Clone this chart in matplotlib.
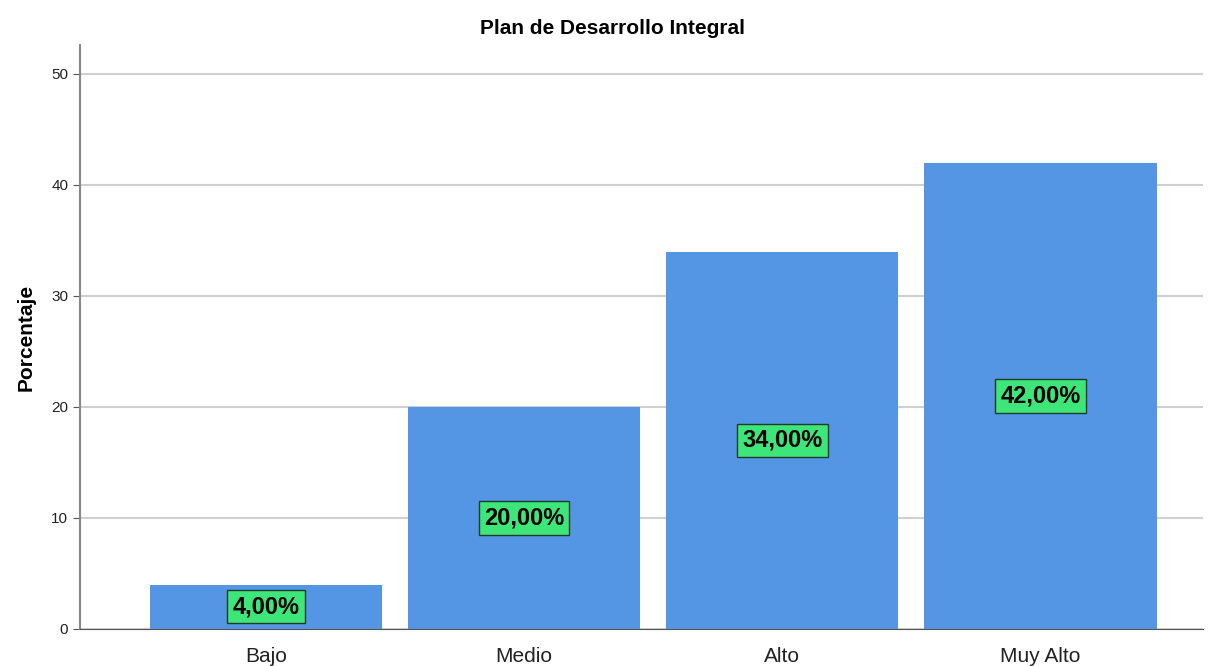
import matplotlib
matplotlib.use("Agg")
import matplotlib.pyplot as plt

# Datos
categorias = ["Bajo", "Medio", "Alto", "Muy Alto"]
porcentajes = [4.0, 20.0, 34.0, 42.0]
etiquetas = ["4,00%", "20,00%", "34,00%", "42,00%"]

plt.rcParams["font.family"] = ["Liberation Sans", "DejaVu Sans"]

fig = plt.figure(figsize=(12.17, 6.66), dpi=100)
ax = fig.add_axes([80 / 1217, 1 - 629 / 666, (1203 - 80) / 1217, (629 - 45) / 666])

x = list(range(len(categorias)))
ax.bar(x, porcentajes, width=0.9, color="#5596e4", zorder=2)

for xi, v, lab in zip(x, porcentajes, etiquetas):
    ax.text(xi, v / 2, lab, ha="center", va="center", fontsize=17, fontweight="bold",
            color="black", zorder=3,
            bbox=dict(boxstyle="square,pad=0.22", facecolor="#3ee67a", edgecolor="#1a3a2a", linewidth=1))

ax.set_xlim(-0.72, 3.63)
ax.set_ylim(0, 52.6)
ax.set_yticks([0, 10, 20, 30, 40, 50])
ax.set_xticks(x)
ax.set_xticklabels(categorias, fontsize=15, color="#222222")
ax.tick_params(axis="y", labelsize=11, length=5, color="#555555", labelcolor="#222222")
ax.tick_params(axis="x", length=0, pad=13)
ax.yaxis.grid(True, color="#d0d0d0", linewidth=1.5, zorder=0)
ax.set_axisbelow(True)

for s in ["top", "right"]:
    ax.spines[s].set_visible(False)
ax.spines["left"].set_color("#888888")
ax.spines["left"].set_linewidth(1.5)
ax.spines["bottom"].set_color("#555555")

ax.set_ylabel("Porcentaje", fontsize=15, fontweight="bold", labelpad=11)
fig.text(612 / 1217, 1 - 28 / 666, "Plan de Desarrollo Integral", ha="center", va="center",
         fontsize=15, fontweight="bold")

fig.savefig("out.png", dpi=100)
